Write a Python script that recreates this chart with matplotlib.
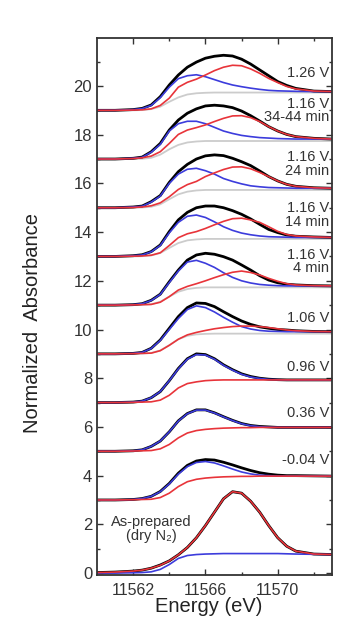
import matplotlib
matplotlib.use("Agg")
import matplotlib.pyplot as plt
from matplotlib.ticker import FixedLocator, MultipleLocator

plt.rcParams['font.family'] = ['Liberation Sans', 'DejaVu Sans']

# energy grid (eV) shared by all curves
energy = [11560, 11561, 11562, 11562.5, 11563, 11563.5, 11564, 11564.5, 11565,
          11565.5, 11566, 11566.5, 11567, 11567.5, 11568, 11568.5, 11569,
          11569.5, 11570, 11570.5, 11571, 11572, 11573]

# spectra from bottom to top
labels = ["As-prepared\n(dry N\u2082)", "-0.04 V", "0.36 V", "0.96 V", "1.06 V",
          "1.16 V\n4 min", "1.16 V\n14 min", "1.16 V\n24 min",
          "1.16 V\n34-44 min", "1.26 V"]
offsets = [0, 3, 5, 7, 9, 11, 13, 15, 17, 19]

# measured data (black), relative to each offset
black_curves = [
    [0.02, 0.04, 0.08, 0.12, 0.2, 0.33, 0.5, 0.75, 1.05, 1.45, 1.95, 2.5, 3.05, 3.34, 3.28, 2.95, 2.5, 1.95, 1.45, 1.1, 0.9, 0.78, 0.76],
    [0, 0, 0.02, 0.06, 0.15, 0.35, 0.68, 1.1, 1.42, 1.6, 1.66, 1.64, 1.55, 1.44, 1.32, 1.21, 1.12, 1.06, 1.02, 1.0, 1.0, 0.99, 0.98],
    [0, 0, 0.02, 0.06, 0.2, 0.42, 0.8, 1.25, 1.55, 1.7, 1.7, 1.58, 1.42, 1.27, 1.14, 1.06, 1.02, 1.0, 0.98, 0.98, 0.98, 0.98, 0.98],
    [0, 0, 0.02, 0.06, 0.2, 0.45, 0.9, 1.4, 1.8, 2.0, 1.97, 1.8, 1.55, 1.35, 1.18, 1.07, 1.0, 0.96, 0.94, 0.93, 0.93, 0.93, 0.93],
    [0, 0, 0.02, 0.06, 0.23, 0.57, 1.05, 1.53, 1.9, 2.09, 2.07, 1.94, 1.73, 1.53, 1.35, 1.21, 1.11, 1.05, 1.0, 0.98, 0.95, 0.92, 0.91],
    [0, 0, 0.02, 0.06, 0.2, 0.45, 0.96, 1.44, 1.85, 2.06, 2.13, 2.09, 1.99, 1.85, 1.65, 1.44, 1.21, 1.03, 0.92, 0.86, 0.83, 0.8, 0.79],
    [0, 0, 0.03, 0.07, 0.2, 0.47, 1.02, 1.5, 1.81, 2.0, 2.07, 2.07, 2.0, 1.88, 1.73, 1.54, 1.32, 1.11, 0.98, 0.88, 0.83, 0.8, 0.78],
    [0, 0, 0.03, 0.07, 0.25, 0.5, 1.04, 1.48, 1.78, 2.0, 2.13, 2.17, 2.14, 2.03, 1.89, 1.73, 1.51, 1.28, 1.1, 0.96, 0.88, 0.82, 0.8],
    [0, 0, 0.03, 0.08, 0.3, 0.64, 1.19, 1.6, 1.88, 2.06, 2.18, 2.21, 2.18, 2.11, 1.97, 1.78, 1.56, 1.33, 1.15, 1.01, 0.92, 0.85, 0.82],
    [0, 0, 0.03, 0.08, 0.22, 0.56, 1.04, 1.45, 1.77, 1.98, 2.14, 2.22, 2.26, 2.23, 2.1, 1.9, 1.66, 1.42, 1.18, 1.02, 0.9, 0.79, 0.77],
]

# low-energy component (blue)
blue_curves = [
    [0, 0, 0.01, 0.02, 0.05, 0.15, 0.35, 0.6, 0.72, 0.76, 0.78, 0.79, 0.8, 0.8, 0.8, 0.8, 0.8, 0.8, 0.8, 0.79, 0.78, 0.77, 0.76],
    [0, 0, 0.02, 0.06, 0.15, 0.34, 0.66, 1.06, 1.37, 1.54, 1.58, 1.52, 1.4, 1.27, 1.15, 1.07, 1.02, 1.0, 0.98, 0.98, 0.98, 0.98, 0.98],
    [0, 0, 0.02, 0.06, 0.2, 0.42, 0.8, 1.24, 1.54, 1.69, 1.69, 1.57, 1.41, 1.26, 1.13, 1.05, 1.01, 0.99, 0.98, 0.98, 0.98, 0.98, 0.98],
    [0, 0, 0.02, 0.06, 0.2, 0.45, 0.9, 1.38, 1.78, 1.97, 1.95, 1.78, 1.53, 1.33, 1.16, 1.05, 0.99, 0.95, 0.94, 0.93, 0.93, 0.93, 0.93],
    [0, 0, 0.02, 0.06, 0.22, 0.55, 1.0, 1.45, 1.82, 1.97, 1.9, 1.72, 1.5, 1.3, 1.12, 1.02, 0.96, 0.93, 0.92, 0.91, 0.91, 0.91, 0.91],
    [0, 0, 0.02, 0.06, 0.19, 0.44, 0.93, 1.4, 1.77, 1.84, 1.72, 1.55, 1.33, 1.14, 1.0, 0.91, 0.85, 0.82, 0.8, 0.79, 0.79, 0.79, 0.79],
    [0, 0, 0.03, 0.06, 0.19, 0.45, 0.97, 1.4, 1.65, 1.7, 1.6, 1.42, 1.22, 1.07, 0.96, 0.89, 0.84, 0.81, 0.8, 0.79, 0.78, 0.78, 0.78],
    [0, 0, 0.03, 0.06, 0.23, 0.48, 1.0, 1.38, 1.58, 1.62, 1.52, 1.38, 1.2, 1.08, 0.98, 0.9, 0.86, 0.83, 0.82, 0.81, 0.8, 0.8, 0.8],
    [0, 0, 0.03, 0.07, 0.28, 0.6, 1.15, 1.45, 1.55, 1.55, 1.45, 1.3, 1.15, 1.05, 0.97, 0.92, 0.88, 0.86, 0.84, 0.83, 0.82, 0.82, 0.82],
    [0, 0, 0.03, 0.07, 0.2, 0.52, 0.95, 1.3, 1.42, 1.46, 1.38, 1.26, 1.14, 1.04, 0.97, 0.91, 0.86, 0.82, 0.8, 0.79, 0.78, 0.77, 0.77],
]

# high-energy component (red)
red_curves = [
    [0.02, 0.04, 0.08, 0.12, 0.2, 0.32, 0.5, 0.75, 1.05, 1.45, 1.95, 2.5, 3.05, 3.34, 3.28, 2.95, 2.5, 1.95, 1.45, 1.1, 0.9, 0.78, 0.76],
    [0, 0, 0.01, 0.02, 0.03, 0.1, 0.28, 0.55, 0.75, 0.85, 0.9, 0.93, 0.95, 0.96, 0.97, 0.97, 0.98, 0.98, 0.98, 0.98, 0.98, 0.98, 0.98],
    [0, 0, 0.01, 0.02, 0.03, 0.1, 0.28, 0.55, 0.75, 0.85, 0.9, 0.93, 0.95, 0.96, 0.97, 0.97, 0.98, 0.98, 0.98, 0.98, 0.98, 0.98, 0.98],
    [0, 0, 0.01, 0.02, 0.03, 0.1, 0.3, 0.6, 0.78, 0.85, 0.9, 0.92, 0.93, 0.93, 0.93, 0.93, 0.93, 0.93, 0.93, 0.93, 0.93, 0.93, 0.93],
    [0, 0, 0.01, 0.02, 0.03, 0.13, 0.35, 0.6, 0.78, 0.88, 0.96, 1.03, 1.08, 1.12, 1.14, 1.14, 1.12, 1.08, 1.03, 0.98, 0.95, 0.92, 0.91],
    [0, 0, 0.01, 0.02, 0.03, 0.12, 0.35, 0.62, 0.77, 0.88, 1.0, 1.13, 1.25, 1.35, 1.4, 1.34, 1.24, 1.1, 0.98, 0.88, 0.83, 0.8, 0.79],
    [0, 0, 0.01, 0.02, 0.05, 0.15, 0.45, 0.77, 0.93, 1.02, 1.15, 1.3, 1.44, 1.55, 1.57, 1.5, 1.4, 1.22, 1.03, 0.9, 0.84, 0.8, 0.78],
    [0, 0, 0.01, 0.03, 0.08, 0.2, 0.45, 0.75, 0.95, 1.08, 1.28, 1.43, 1.57, 1.67, 1.68, 1.6, 1.45, 1.28, 1.1, 0.96, 0.88, 0.82, 0.8],
    [0, 0, 0.02, 0.05, 0.12, 0.3, 0.64, 1.01, 1.19, 1.29, 1.4, 1.54, 1.67, 1.77, 1.78, 1.7, 1.54, 1.33, 1.15, 1.01, 0.92, 0.85, 0.82],
    [0, 0, 0.01, 0.02, 0.06, 0.2, 0.5, 0.95, 1.15, 1.28, 1.45, 1.63, 1.77, 1.85, 1.83, 1.7, 1.52, 1.31, 1.14, 0.98, 0.88, 0.79, 0.77],
]

# edge step (gray), only drawn for the upper spectra
gray_curves = [
    None, None, None, None,
    [0, 0, 0, 0.01, 0.04, 0.14, 0.36, 0.6, 0.74, 0.8, 0.82, 0.83, 0.83, 0.83, 0.83, 0.83, 0.83, 0.83, 0.83, 0.83, 0.83, 0.83, 0.83],
    [0, 0, 0, 0.01, 0.04, 0.14, 0.35, 0.55, 0.66, 0.71, 0.73, 0.73, 0.73, 0.73, 0.73, 0.73, 0.73, 0.73, 0.73, 0.73, 0.73, 0.73, 0.73],
    [0, 0, 0, 0.01, 0.04, 0.14, 0.35, 0.55, 0.66, 0.7, 0.72, 0.72, 0.72, 0.72, 0.72, 0.72, 0.72, 0.72, 0.72, 0.72, 0.72, 0.72, 0.72],
    [0, 0, 0, 0.01, 0.04, 0.14, 0.35, 0.55, 0.66, 0.71, 0.73, 0.73, 0.73, 0.73, 0.73, 0.73, 0.73, 0.73, 0.73, 0.73, 0.73, 0.73, 0.73],
    [0, 0, 0, 0.01, 0.05, 0.18, 0.4, 0.58, 0.68, 0.72, 0.74, 0.74, 0.74, 0.74, 0.74, 0.74, 0.74, 0.74, 0.74, 0.74, 0.74, 0.74, 0.74],
    [0, 0, 0, 0.01, 0.05, 0.15, 0.35, 0.53, 0.65, 0.7, 0.72, 0.73, 0.73, 0.73, 0.73, 0.73, 0.73, 0.73, 0.73, 0.73, 0.73, 0.73, 0.73],
]

x_ticks = [11562, 11566, 11570]
x_minor = [11564, 11568, 11572]

fig = plt.figure(figsize=(3.52, 6.32), dpi=100)
ax = fig.add_axes([0.2756, 0.0902, 0.6674, 0.8497])

for i, off in enumerate(offsets):
    if gray_curves[i] is not None:
        ax.plot(energy, [v + off for v in gray_curves[i]], color='#cccccc', lw=1.3)
    ax.plot(energy, [v + off for v in black_curves[i]], color='black', lw=2.0)
    ax.plot(energy, [v + off for v in blue_curves[i]], color='#3c3cdc', lw=1.2)
    ax.plot(energy, [v + off for v in red_curves[i]], color='#e8343a', lw=1.2)

# labels on the right side
label_y = [1.81, 1.64, 1.56, 1.47, 1.46, 1.8, 1.7, 1.79, 2.0, 1.53]
for i, txt in enumerate(labels):
    if i == 0:
        ax.text(11563.0, offsets[i] + label_y[i], txt, ha='center', va='center',
                fontsize=10.5, color='#333333', linespacing=1.05)
    else:
        ax.text(11572.85, offsets[i] + label_y[i], txt, ha='right', va='center',
                fontsize=10.5, color='#333333', linespacing=0.95)

ax.set_xlim(11560, 11573)
ax.set_ylim(-0.08, 21.97)
ax.xaxis.set_major_locator(FixedLocator(x_ticks))
ax.xaxis.set_minor_locator(FixedLocator(x_minor))
ax.set_xticklabels([str(t) for t in x_ticks])
ax.yaxis.set_major_locator(MultipleLocator(2))
ax.yaxis.set_minor_locator(MultipleLocator(1))
ax.set_yticks(range(0, 21, 2))

ax.tick_params(which='both', direction='in', top=True, right=True,
               colors='#333333', width=1.0)
ax.tick_params(axis='x', which='both', pad=6, labelsize=11.5)
ax.tick_params(axis='y', which='both', labelsize=12)
ax.tick_params(which='major', length=4)
ax.tick_params(which='minor', length=2.5)
for sp in ax.spines.values():
    sp.set_linewidth(1.3)
    sp.set_color('#333333')

ax.set_xlabel("Energy (eV)", fontsize=14.5, color='#222222')
ax.set_ylabel("Normalized  Absorbance", fontsize=14.5, color='#222222')
ax.xaxis.set_label_coords(0.475, -0.041)
ax.yaxis.set_label_coords(-0.235, 0.47)

fig.savefig("out.png", dpi=100)
